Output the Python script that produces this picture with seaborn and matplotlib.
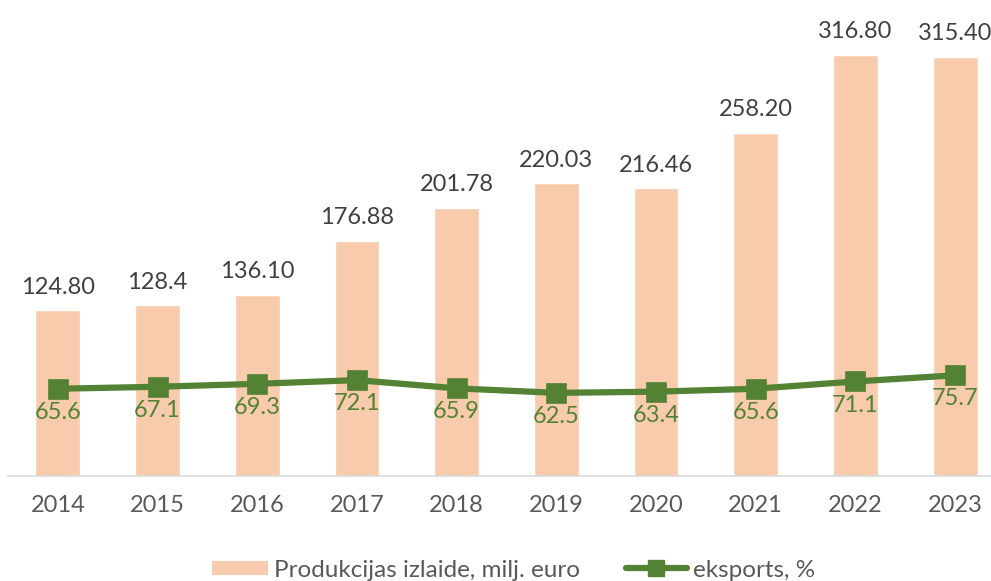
"""
Produkcijas izlaide un eksports, 2014-2023.
"""

import matplotlib
matplotlib.use('Agg')
import matplotlib.pyplot as plt
from matplotlib.lines import Line2D
from matplotlib.patches import Patch, Rectangle
from matplotlib.legend_handler import HandlerPatch
import seaborn as sns

years = ['2014', '2015', '2016', '2017', '2018', '2019', '2020', '2021', '2022', '2023']
output = [124.80, 128.4, 136.10, 176.88, 201.78, 220.03, 216.46, 258.20, 316.80, 315.40]
output_labels = ['124.80', '128.4', '136.10', '176.88', '201.78', '220.03', '216.46',
                 '258.20', '316.80', '315.40']
export = [65.6, 67.1, 69.3, 72.1, 65.9, 62.5, 63.4, 65.6, 71.1, 75.7]

bar_color = '#F8CBAD'
line_color = '#548235'

sns.set_theme(style='white')
plt.rcParams['font.family'] = ['Lato', 'DejaVu Sans']

fig = plt.figure(figsize=(9.91, 5.81), dpi=100)
ax = fig.add_axes([8 / 991, 105 / 581, 997 / 991, 465.5 / 581])

sns.barplot(x=years, y=output, color=bar_color, width=0.45, saturation=1, ax=ax)
sns.pointplot(x=years, y=export, color=line_color, markers='s', markersize=12,
              linewidth=4.5, ax=ax)

ax.set_ylim(0, 350)
ax.set_xlim(-0.5, len(years) - 0.5)

# bar value labels
ax.bar_label(ax.containers[0], labels=output_labels, padding=9,
             fontsize=17, color='#404040')

# line value labels
for i, v in enumerate(export):
    ax.annotate(f'{v:.1f}', (i, v), xytext=(0, -17), textcoords='offset points',
                ha='center', va='center', fontsize=17, color=line_color)

for s in ['top', 'right', 'left']:
    ax.spines[s].set_visible(False)
ax.spines['bottom'].set_color('#D9D9D9')
ax.spines['bottom'].set_linewidth(1.2)
ax.set_yticks([])
ax.tick_params(axis='x', length=0, pad=14, labelsize=17, labelcolor='#595959')
ax.set_xlabel('')
ax.set_ylabel('')


def short_patch(legend, orig_handle, xdescent, ydescent, width, height, fontsize):
    # slightly narrower box, sitting next to the label
    return Rectangle((-xdescent + 0.08 * width, -ydescent + 0.07 * height),
                     0.92 * width, 0.85 * height)


handles = [
    Patch(facecolor=bar_color, edgecolor='none'),
    Line2D([0], [0], color=line_color, lw=4.5, marker='s', markersize=12),
]
fig.legend(handles, ['Produkcijas izlaide, milj. euro', 'eksports, %'],
           loc='center', bbox_to_anchor=(511 / 991, 1 - 570 / 581), ncol=2,
           frameon=False, fontsize=17.5, labelcolor='#595959',
           handlelength=2.5, handletextpad=0.25, columnspacing=1.9,
           borderpad=0.1,
           handler_map={Patch: HandlerPatch(patch_func=short_patch)})

fig.savefig('out.png', dpi=100)
